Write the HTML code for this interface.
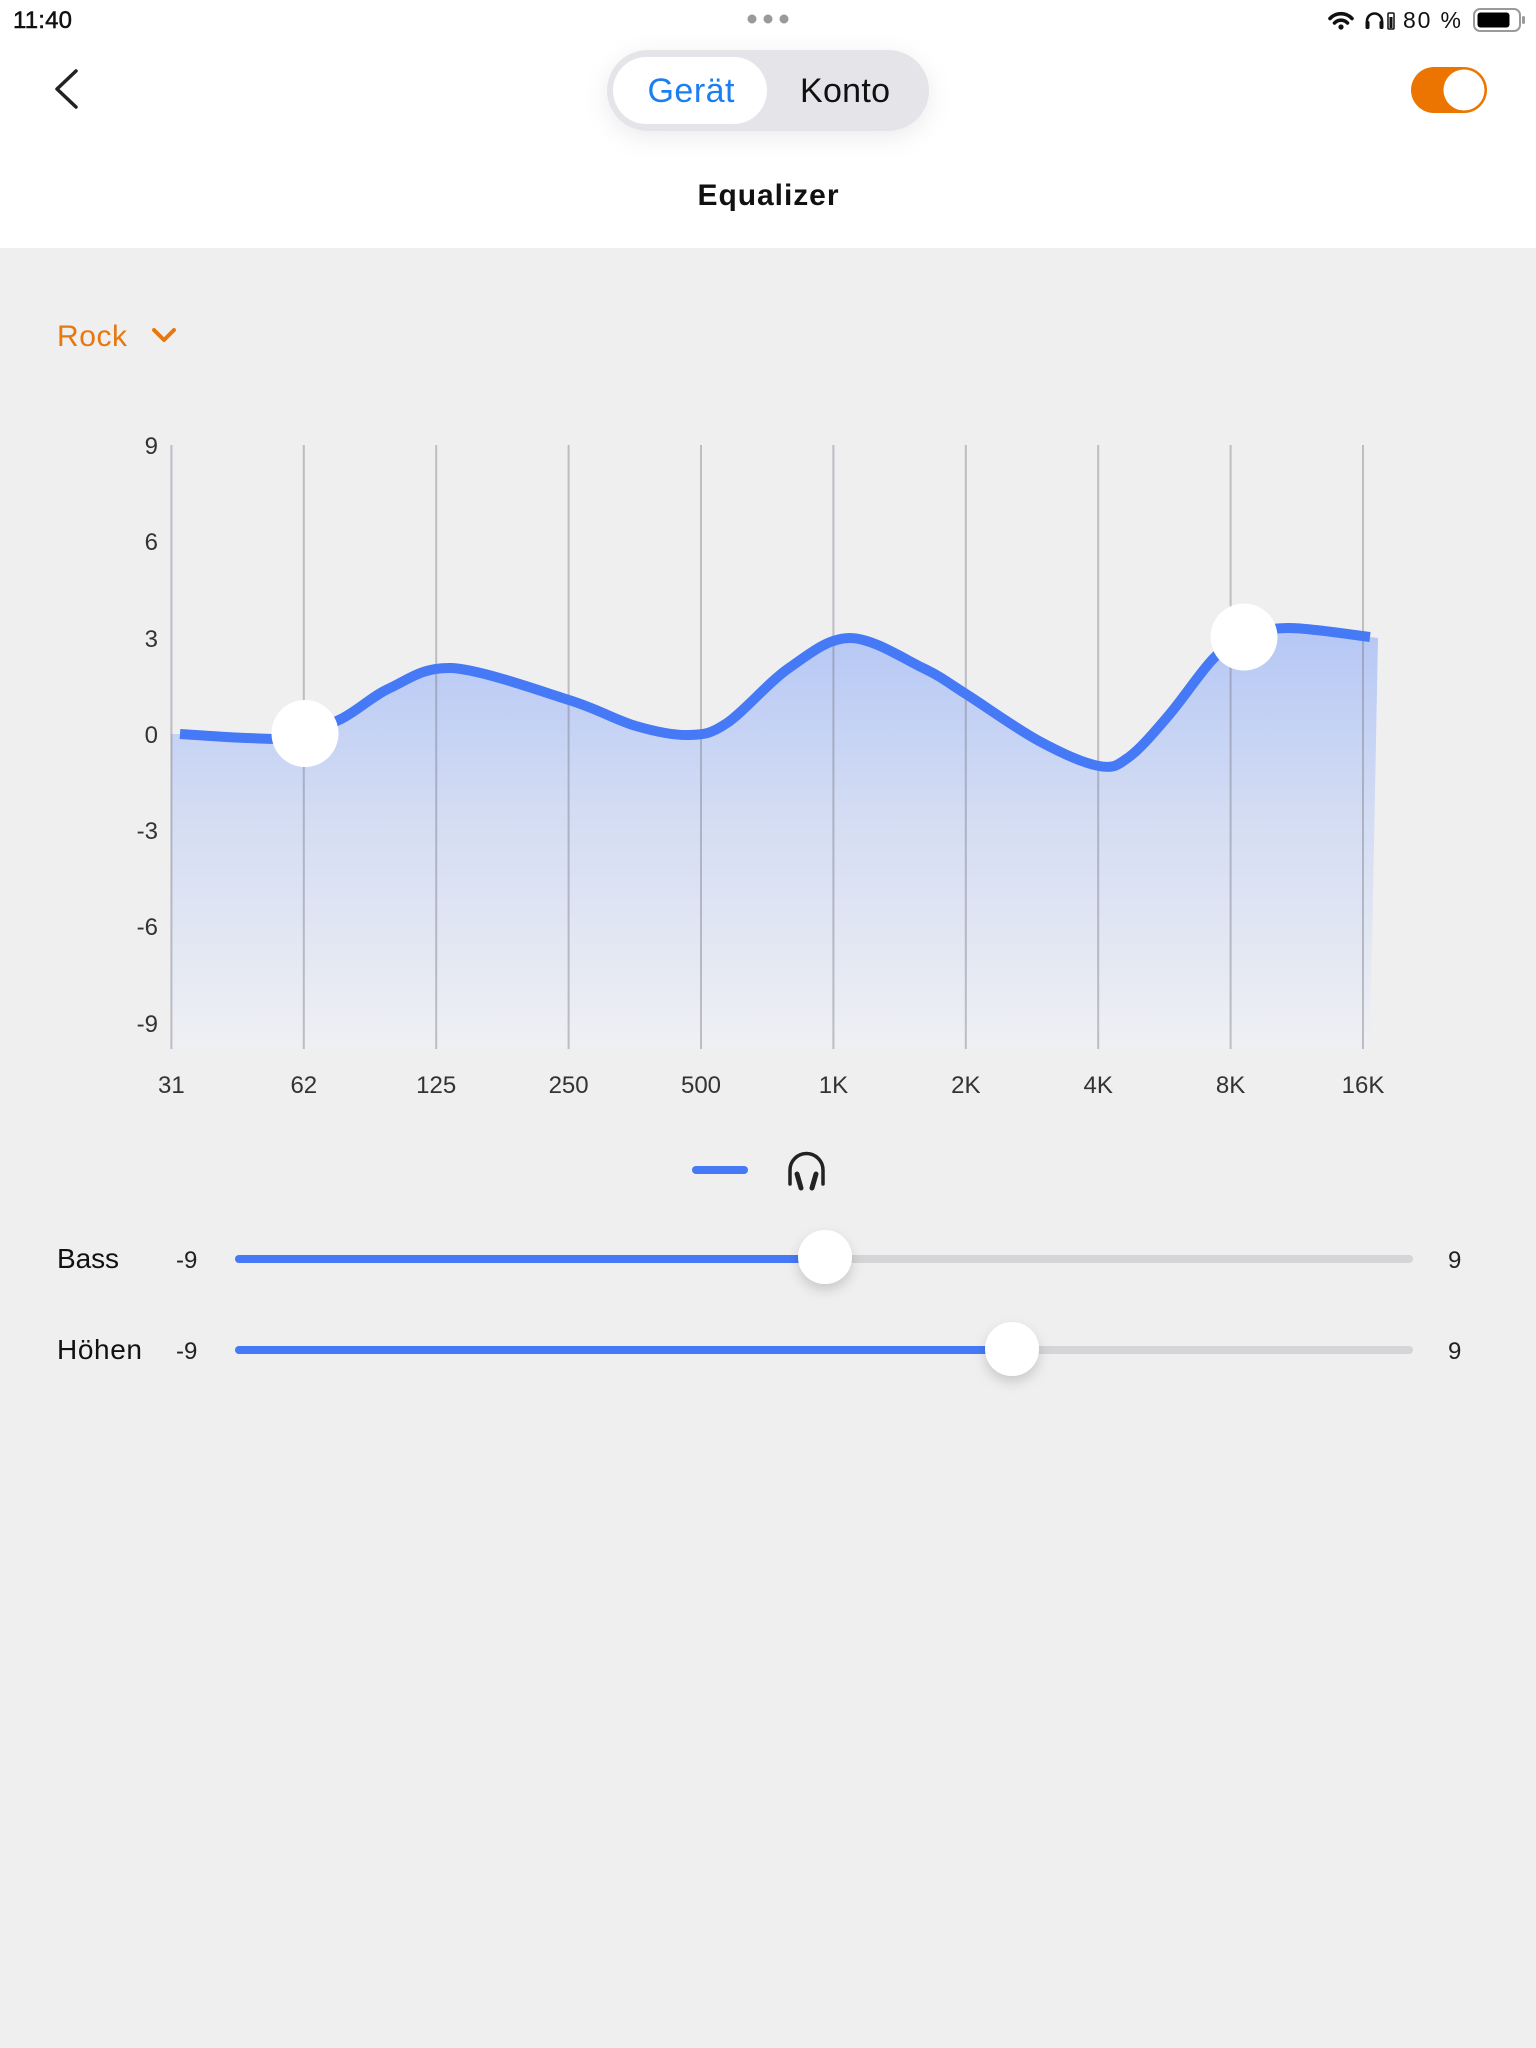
<!DOCTYPE html>
<html><head><meta charset="utf-8"><style>
html,body{margin:0;padding:0;width:1536px;height:2048px;overflow:hidden;background:#efeff0;}
svg{display:block;font-family:"Liberation Sans",sans-serif;}
</style></head><body>
<svg width="1536" height="2048" viewBox="0 0 1536 2048" xmlns="http://www.w3.org/2000/svg">
<defs>
<linearGradient id="fg" x1="0" y1="620" x2="0" y2="1048" gradientUnits="userSpaceOnUse">
<stop offset="0" stop-color="#b4c6f5"/>
<stop offset="0.45" stop-color="#d3dcf3"/>
<stop offset="1" stop-color="#eff0f3"/>
</linearGradient>
<filter id="sh" x="-30%" y="-60%" width="160%" height="240%"><feDropShadow dx="0" dy="6" stdDeviation="12" flood-color="#000" flood-opacity="0.08"/></filter>
<filter id="ks" x="-50%" y="-50%" width="200%" height="220%"><feDropShadow dx="0" dy="6" stdDeviation="6" flood-color="#000" flood-opacity="0.16"/></filter>
</defs>
<rect x="0" y="0" width="1536" height="2048" fill="#efeff0"/>
<rect x="0" y="0" width="1536" height="248" fill="#ffffff"/>

<!-- status bar -->
<text x="13" y="28" font-size="24" fill="#111" stroke="#111" stroke-width="0.5" textLength="59">11:40</text>
<circle cx="752" cy="19" r="4.5" fill="#9a9a9a"/><circle cx="768" cy="19" r="4.5" fill="#9a9a9a"/><circle cx="784" cy="19" r="4.5" fill="#9a9a9a"/>
<g fill="none" stroke="#111" stroke-linecap="round">
<path d="M1330 18.5 A15 15 0 0 1 1352 18.5" stroke-width="3.6"/>
<path d="M1334.5 23 A9 9 0 0 1 1347.5 23" stroke-width="3.6"/>
</g>
<circle cx="1341" cy="27" r="2.6" fill="#111"/>
<path d="M1367 27 V21 A7.5 7.5 0 0 1 1382 21 V27" fill="none" stroke="#111" stroke-width="2.6"/>
<rect x="1365.5" y="21" width="4" height="8" rx="1.5" fill="#111"/>
<rect x="1379.5" y="21" width="4" height="8" rx="1.5" fill="#111"/>
<rect x="1388" y="13" width="6" height="16" rx="1" fill="none" stroke="#111" stroke-width="1.5"/>
<rect x="1389.5" y="17" width="3" height="11" fill="#111"/>
<text x="1403" y="28" font-size="23" fill="#111" textLength="58">80 %</text>
<rect x="1474" y="9" width="46" height="22" rx="6" fill="none" stroke="#9a9a9a" stroke-width="2"/>
<rect x="1477.5" y="12.5" width="32" height="15" rx="3" fill="#000"/>
<rect x="1522" y="16" width="3" height="8" rx="1.5" fill="#9a9a9a"/>

<!-- nav -->
<polyline points="76,71 57,89 76,107" fill="none" stroke="#222" stroke-width="3.5" stroke-linecap="round" stroke-linejoin="round"/>
<rect x="607" y="50" width="322" height="81" rx="40.5" fill="#e4e4e9" filter="url(#sh)"/>
<rect x="613" y="57" width="154" height="67" rx="33.5" fill="#ffffff"/>
<text x="691" y="102" font-size="34" fill="#1b7ef1" text-anchor="middle" textLength="87">Gerät</text>
<text x="845" y="102" font-size="34" fill="#111" text-anchor="middle" textLength="90">Konto</text>
<rect x="1411" y="67" width="76" height="46" rx="23" fill="#eb7500"/>
<circle cx="1464" cy="90" r="20.5" fill="#ffffff"/>
<text x="768" y="205" font-size="30" font-weight="bold" fill="#111" text-anchor="middle" textLength="141">Equalizer</text>

<!-- preset -->
<text x="57" y="346" font-size="30" fill="#e8770f" textLength="70">Rock</text>
<polyline points="154,330 164,340 174,330" fill="none" stroke="#e8770f" stroke-width="4" stroke-linecap="round" stroke-linejoin="round"/>

<!-- chart fill -->
<path d="M171 734 L180 734 C191.2 734.7 228.7 737.5 247 738 C265.3 738.5 274.3 740.2 290 737 C305.7 733.8 324.3 727.2 341 719 C357.7 710.8 371.5 696.5 390 688 C408.5 679.5 422.2 667 452 668 C481.8 670 538.3 690.3 569 700 C599.7 709.7 616 720.2 636 726 C656 731.8 673.8 735.5 689 735 C704.2 734.5 710.3 734.2 727 723 C743.7 711.8 768.5 682.2 789 668 C809.5 653.8 827.7 638 850 638 C872.3 638 903.7 658.7 923 668 C942.3 677.3 946.7 681.8 966 694 C985.3 706.2 1016.8 729 1039 741 C1061.2 753 1084 763.3 1099 766 C1114 768.7 1117.3 765.5 1129 757 C1140.7 748.5 1155 731.3 1169 715 C1183 698.7 1200.5 672 1213 659 C1225.5 646 1231.3 642.2 1244 637 C1256.7 631.8 1268 628 1289 628 C1310 628 1356.5 635.5 1370 637 L1378 638 L1370 1048 L171 1048 Z" fill="url(#fg)"/>

<!-- gridlines -->
<g stroke="#787882" stroke-opacity="0.42" stroke-width="2">
<line x1="171.4" y1="445" x2="171.4" y2="1049"/>
<line x1="303.8" y1="445" x2="303.8" y2="1049"/>
<line x1="436.2" y1="445" x2="436.2" y2="1049"/>
<line x1="568.6" y1="445" x2="568.6" y2="1049"/>
<line x1="701" y1="445" x2="701" y2="1049"/>
<line x1="833.4" y1="445" x2="833.4" y2="1049"/>
<line x1="965.8" y1="445" x2="965.8" y2="1049"/>
<line x1="1098.2" y1="445" x2="1098.2" y2="1049"/>
<line x1="1230.6" y1="445" x2="1230.6" y2="1049"/>
<line x1="1363" y1="445" x2="1363" y2="1049"/>
</g>

<!-- curve -->
<path d="M180 734 C191.2 734.7 228.7 737.5 247 738 C265.3 738.5 274.3 740.2 290 737 C305.7 733.8 324.3 727.2 341 719 C357.7 710.8 371.5 696.5 390 688 C408.5 679.5 422.2 667 452 668 C481.8 670 538.3 690.3 569 700 C599.7 709.7 616 720.2 636 726 C656 731.8 673.8 735.5 689 735 C704.2 734.5 710.3 734.2 727 723 C743.7 711.8 768.5 682.2 789 668 C809.5 653.8 827.7 638 850 638 C872.3 638 903.7 658.7 923 668 C942.3 677.3 946.7 681.8 966 694 C985.3 706.2 1016.8 729 1039 741 C1061.2 753 1084 763.3 1099 766 C1114 768.7 1117.3 765.5 1129 757 C1140.7 748.5 1155 731.3 1169 715 C1183 698.7 1200.5 672 1213 659 C1225.5 646 1231.3 642.2 1244 637 C1256.7 631.8 1268 628 1289 628 C1310 628 1356.5 635.5 1370 637" fill="none" stroke="#4579f6" stroke-width="10"/>

<circle cx="305" cy="733.5" r="33.5" fill="#ffffff"/>
<circle cx="1244" cy="637" r="33.5" fill="#ffffff"/>

<!-- y labels -->
<g font-size="24" fill="#333" text-anchor="end">
<text x="158" y="454">9</text>
<text x="158" y="550">6</text>
<text x="158" y="647">3</text>
<text x="158" y="743">0</text>
<text x="158" y="839">-3</text>
<text x="158" y="935">-6</text>
<text x="158" y="1032">-9</text>
</g>
<!-- x labels -->
<g font-size="24" fill="#333" text-anchor="middle">
<text x="171.4" y="1093">31</text>
<text x="303.8" y="1093">62</text>
<text x="436.2" y="1093">125</text>
<text x="568.6" y="1093">250</text>
<text x="701" y="1093">500</text>
<text x="833.4" y="1093">1K</text>
<text x="965.8" y="1093">2K</text>
<text x="1098.2" y="1093">4K</text>
<text x="1230.6" y="1093">8K</text>
<text x="1363" y="1093">16K</text>
</g>

<!-- legend -->
<line x1="696" y1="1170" x2="744" y2="1170" stroke="#4579f6" stroke-width="8" stroke-linecap="round"/>
<path d="M790 1184 V1170 A16.5 16.5 0 0 1 823 1170 V1184" fill="none" stroke="#222" stroke-width="3.5" stroke-linecap="round"/>
<line x1="797" y1="1174" x2="801" y2="1188" stroke="#222" stroke-width="5" stroke-linecap="round"/>
<line x1="816" y1="1174" x2="812" y2="1188" stroke="#222" stroke-width="5" stroke-linecap="round"/>

<!-- Bass slider -->
<text x="57" y="1268" font-size="28" fill="#111" textLength="62">Bass</text>
<text x="176" y="1268" font-size="24" fill="#222">-9</text>
<text x="1448" y="1268" font-size="24" fill="#222">9</text>
<line x1="239" y1="1259" x2="1409" y2="1259" stroke="#d5d5d7" stroke-width="8" stroke-linecap="round"/>
<line x1="239" y1="1259" x2="825" y2="1259" stroke="#4579f6" stroke-width="8" stroke-linecap="round"/>
<circle cx="825" cy="1257" r="27" fill="#ffffff" filter="url(#ks)"/>

<!-- Höhen slider -->
<text x="57" y="1359" font-size="28" fill="#111" textLength="85">Höhen</text>
<text x="176" y="1359" font-size="24" fill="#222">-9</text>
<text x="1448" y="1359" font-size="24" fill="#222">9</text>
<line x1="239" y1="1350" x2="1409" y2="1350" stroke="#d5d5d7" stroke-width="8" stroke-linecap="round"/>
<line x1="239" y1="1350" x2="1012" y2="1350" stroke="#4579f6" stroke-width="8" stroke-linecap="round"/>
<circle cx="1012" cy="1349" r="27" fill="#ffffff" filter="url(#ks)"/>
</svg>
</body></html>
